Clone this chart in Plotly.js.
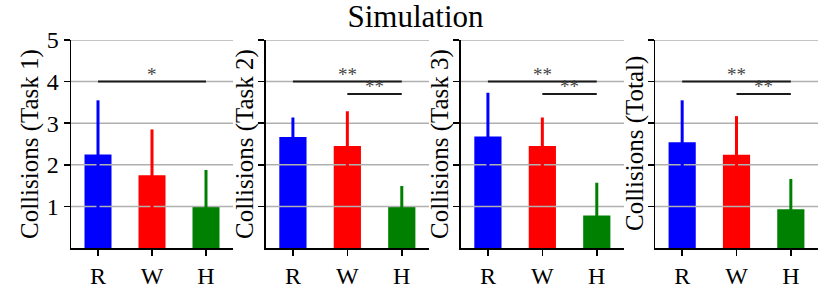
<!DOCTYPE html>
<html>
<head>
<meta charset="utf-8">
<script src="https://cdn.plot.ly/plotly-3.0.1.min.js"></script>
<style>html,body{margin:0;padding:0;background:#fff;}#chart{width:831px;height:297px;}</style>
</head>
<body>
<div id="chart"></div>
<script>
// ---- data ----
const categories = ['R', 'W', 'H'];
const barColors = ['#0000ff', '#ff0000', '#008000'];
const panelLabels = ['Collisions (Task 1)', 'Collisions (Task 2)', 'Collisions (Task 3)', 'Collisions (Total)'];
const task1Means = [2.25, 1.75, 1.0];
const task1Err = [1.30, 1.10, 0.875];
const task2Means = [2.67, 2.45, 1.0];
const task2Err = [0.47, 0.84, 0.49];
const task3Means = [2.68, 2.45, 0.78];
const task3Err = [1.05, 0.69, 0.79];
const totalMeans = [2.54, 2.24, 0.93];
const totalErr = [1.01, 0.93, 0.73];
const yTickVals = [1, 2, 3, 4, 5];
const yTickText = ['1', '2', '3', '4', '5'];
const sig1 = [{from: 0, to: 2, level: 4.0, label: '*'}];
const sig2 = [{from: 0, to: 2, level: 4.0, label: '**'}, {from: 1, to: 2, level: 3.7, label: '**'}];
const sig3 = [{from: 0, to: 2, level: 4.0, label: '**'}, {from: 1, to: 2, level: 3.7, label: '**'}];
const sigTotal = [{from: 0, to: 2, level: 4.0, label: '**'}, {from: 1, to: 2, level: 3.7, label: '**'}];

const panels = [
  {means: task1Means, err: task1Err, sig: sig1},
  {means: task2Means, err: task2Err, sig: sig2},
  {means: task3Means, err: task3Err, sig: sig3},
  {means: totalMeans, err: totalErr, sig: sigTotal}
];

// ---- layout geometry (pixels) ----
const W = 831, H = 297;
const xDomPx = [[71, 233], [265.7, 429], [460.7, 624], [655, 818]];
const topPx = 40, bottomPx = 248;
const labelXPx = [30, 245, 440, 635];
const xRange = [-0.5, 2.5];
const FONT = 'Liberation Serif, Times New Roman, serif';
const catIdx = categories.map((c, i) => i);

const traces = [];
const layout = {
  width: W, height: H,
  margin: {l: 0, r: 0, t: topPx, b: H - bottomPx, pad: 0},
  paper_bgcolor: '#ffffff',
  plot_bgcolor: 'rgba(0,0,0,0)',
  showlegend: false,
  title: {text: 'Simulation', font: {family: FONT, size: 31, color: '#000'},
          x: 0.5, xanchor: 'center', y: 1 - 16 / H, yanchor: 'middle', yref: 'container'},
  annotations: [],
  font: {family: FONT, color: '#000'}
};

panels.forEach((p, i) => {
  const n = i === 0 ? '' : String(i + 1);
  const xa = 'x' + n, ya = 'y' + n;
  // bars
  traces.push({
    type: 'bar', x: catIdx, y: p.means, xaxis: xa, yaxis: ya,
    width: 0.5, marker: {color: barColors, line: {width: 0}}, hoverinfo: 'skip'
  });
  // grid lines drawn above the bars
  const gx = [], gy = [];
  yTickVals.forEach(v => { gx.push(xRange[0], xRange[1], null); gy.push(v, v, null); });
  traces.push({
    type: 'scatter', mode: 'lines', x: gx, y: gy, xaxis: xa, yaxis: ya,
    hoverinfo: 'skip', line: {color: '#b0b0b0', width: 1.5}
  });
  // error bars per category
  catIdx.forEach(k => {
    traces.push({
      type: 'scatter', mode: 'markers', x: [k], y: [p.means[k]], xaxis: xa, yaxis: ya,
      marker: {size: 1, opacity: 0}, hoverinfo: 'skip',
      error_y: {type: 'data', array: [p.err[k]], symmetric: true, visible: true,
                color: barColors[k], thickness: 3, width: 0}
    });
  });
  // significance brackets
  p.sig.forEach(s => {
    traces.push({
      type: 'scatter', mode: 'lines', x: [s.from, s.to], y: [s.level, s.level],
      xaxis: xa, yaxis: ya, hoverinfo: 'skip', line: {color: '#1a1a1a', width: 2}
    });
    layout.annotations.push({
      xref: xa, yref: ya, x: (s.from + s.to) / 2, y: s.level, text: s.label,
      showarrow: false, xanchor: 'center', yanchor: 'bottom', yshift: -5,
      font: {family: FONT, size: 19, color: '#444'}
    });
  });
  // axes
  const xKey = 'xaxis' + n, yKey = 'yaxis' + n;
  layout[xKey] = {
    domain: [xDomPx[i][0] / W, xDomPx[i][1] / W], anchor: ya,
    range: xRange, tickmode: 'array', tickvals: catIdx, ticktext: categories,
    showgrid: false, zeroline: false,
    showline: true, linecolor: '#000', linewidth: 1.5,
    ticks: 'outside', ticklen: 6, tickwidth: 1.5, tickcolor: '#000',
    tickfont: {family: FONT, size: 24, color: '#000'}, fixedrange: true
  };
  layout[yKey] = {
    domain: [0, 1], anchor: xa,
    range: [0, 5], tickmode: 'array', tickvals: yTickVals, ticktext: yTickText,
    showticklabels: i === 0, showgrid: false, zeroline: false,
    showline: true, linecolor: '#000', linewidth: 1.5,
    ticks: 'outside', ticklen: 6, tickwidth: 1.5, tickcolor: '#000',
    tickfont: {family: FONT, size: 24, color: '#000'}, fixedrange: true
  };
  // y-axis label
  layout.annotations.push({
    xref: 'paper', yref: 'paper', x: labelXPx[i] / W, y: 0.5,
    text: panelLabels[i], textangle: -90, showarrow: false,
    xanchor: 'center', yanchor: 'middle',
    font: {family: FONT, size: 25, color: '#000'}
  });
});

Plotly.newPlot('chart', traces, layout, {staticPlot: true, displayModeBar: false});
</script>
</body>
</html>
